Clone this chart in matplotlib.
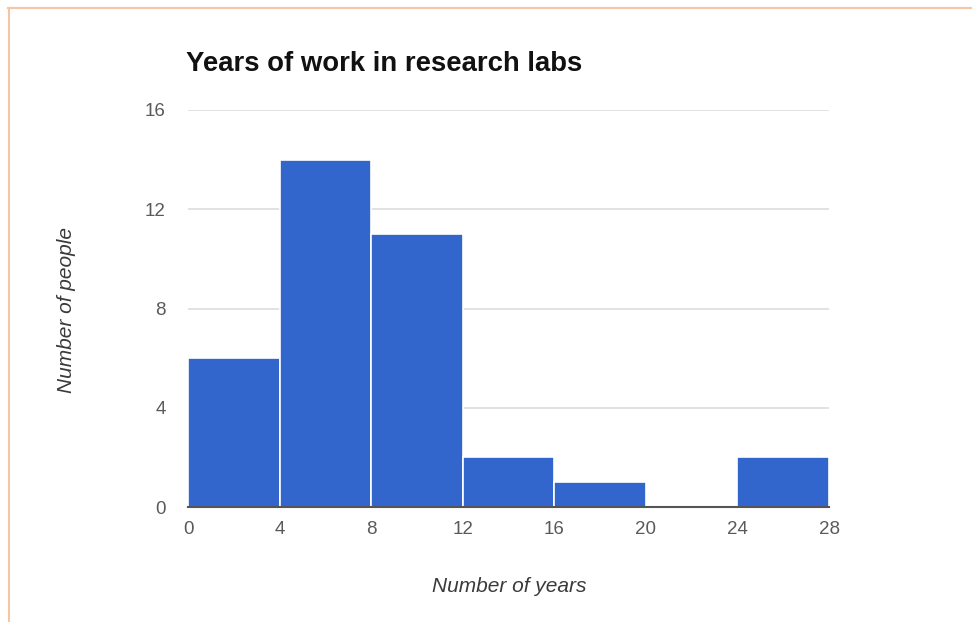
import matplotlib.pyplot as plt
from matplotlib.lines import Line2D

# Histogram bins (years) and counts
bin_edges = [0, 4, 8, 12, 16, 20, 24, 28]
counts = [6, 14, 11, 2, 1, 0, 2]
y_ticks = [0, 4, 8, 12, 16]
x_ticks = [0, 4, 8, 12, 16, 20, 24, 28]

plt.rcParams['font.family'] = ['Liberation Sans', 'DejaVu Sans']

W, H = 972, 622
fig = plt.figure(figsize=(W / 100, H / 100), dpi=100)
ax = fig.add_axes([188 / W, 1 - 507 / H, (829 - 188) / W, (507 - 110) / H])

lefts = bin_edges[:-1]
widths = [b - a for a, b in zip(bin_edges[:-1], bin_edges[1:])]
ax.bar(lefts, counts, width=widths, align='edge', color='#3366CC',
       edgecolor='white', linewidth=1.2, zorder=3)

ax.set_xlim(0, 28)
ax.set_ylim(0, 16)
ax.set_yticks(y_ticks)
ax.set_xticks(x_ticks)
ax.set_yticklabels([str(v) for v in y_ticks])
ax.set_xticklabels([str(v) for v in x_ticks])
ax.tick_params(axis='both', length=0, labelsize=13.5, labelcolor='#5a5a5a')
ax.tick_params(axis='y', pad=16)
ax.tick_params(axis='x', pad=10)

ax.grid(axis='y', color='#dddddd', linewidth=1.2, zorder=0)
for s in ['top', 'right', 'left']:
    ax.spines[s].set_visible(False)
ax.spines['bottom'].set_color('#555555')
ax.spines['bottom'].set_linewidth(1.5)
ax.spines['bottom'].set_zorder(4)

fig.text(186 / W, 1 - 64 / H, 'Years of work in research labs',
         fontsize=19.8, fontweight='bold', color='#111111',
         ha='left', va='center')
fig.text(509 / W, 1 - 587 / H, 'Number of years', fontsize=15,
         style='italic', color='#3a3a3a', ha='center', va='center')
fig.text(66 / W, 1 - 310 / H, 'Number of people', fontsize=15,
         style='italic', color='#3a3a3a', ha='center', va='center',
         rotation=90)

# Thin frame along the top and left edges
border = '#F6C6A4'
fig.add_artist(Line2D([8 / W, 1.0], [1 - 7.5 / H, 1 - 7.5 / H],
                      color=border, linewidth=1.5, transform=fig.transFigure))
fig.add_artist(Line2D([8.5 / W, 8.5 / W], [0, 1 - 7.5 / H],
                      color=border, linewidth=1.5, transform=fig.transFigure))

fig.savefig('out.png', dpi=100)
